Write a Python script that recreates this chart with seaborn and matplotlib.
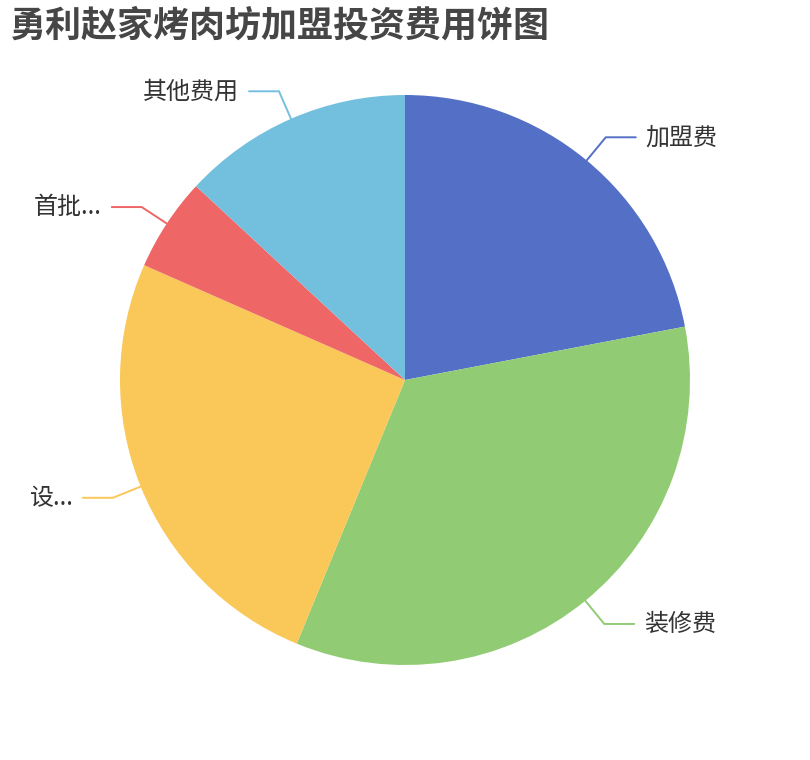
import numpy as np
import matplotlib
matplotlib.use("Agg")
import matplotlib.pyplot as plt
import seaborn as sns

# ---- data ----
title = "勇利赵家烤肉坊加盟投资费用饼图"
categories = ["加盟费", "装修费", "设...", "首批...", "其他费用"]
values = [22.0, 34.2, 25.4, 5.3, 13.1]
colors = ["#5470c6", "#91cc75", "#fac858", "#ee6666", "#73c0de"]

sns.set_theme(style="white")
plt.rcParams["font.family"] = ["Noto Sans CJK SC", "DejaVu Sans"]

W, H = 810, 760
R_PX = 285.0
fig = plt.figure(figsize=(W / 100, H / 100), dpi=100)
fig.patch.set_facecolor("white")
ax = fig.add_axes([0, 0, 1, 1])

wedges, _ = ax.pie(values, colors=colors, startangle=90, counterclock=False,
                   radius=1.0, center=(0, 0), frame=False,
                   wedgeprops=dict(linewidth=0))

ax.set_xlim(-(W / 2) / R_PX, (W / 2) / R_PX)
ax.set_ylim(-(H / 2) / R_PX, (H / 2) / R_PX)
ax.set_aspect("equal")
ax.axis("off")

L1 = 30 / R_PX
L2 = 30 / R_PX
GAP = 10 / R_PX
for w, lab in zip(wedges, categories):
    th = np.deg2rad((w.theta1 + w.theta2) / 2)
    c, s = np.cos(th), np.sin(th)
    sign = 1 if c >= 0 else -1
    x1, y1 = c, s
    x2, y2 = c * (1 + L1), s * (1 + L1)
    x3, y3 = x2 + sign * L2, y2
    ax.plot([x1, x2, x3], [y1, y2, y3], color=w.get_facecolor(), lw=1.4,
            zorder=0, solid_joinstyle="miter")
    ax.text(x3 + sign * GAP, y3, lab, ha="left" if sign > 0 else "right",
            va="center", fontsize=17.3, color="#333333")

fig.text(10 / W, 1 - 8 / H, title, ha="left", va="top", fontsize=25.9,
         fontweight="bold", color="#464646")

fig.savefig("out.png", dpi=100, facecolor="white")
